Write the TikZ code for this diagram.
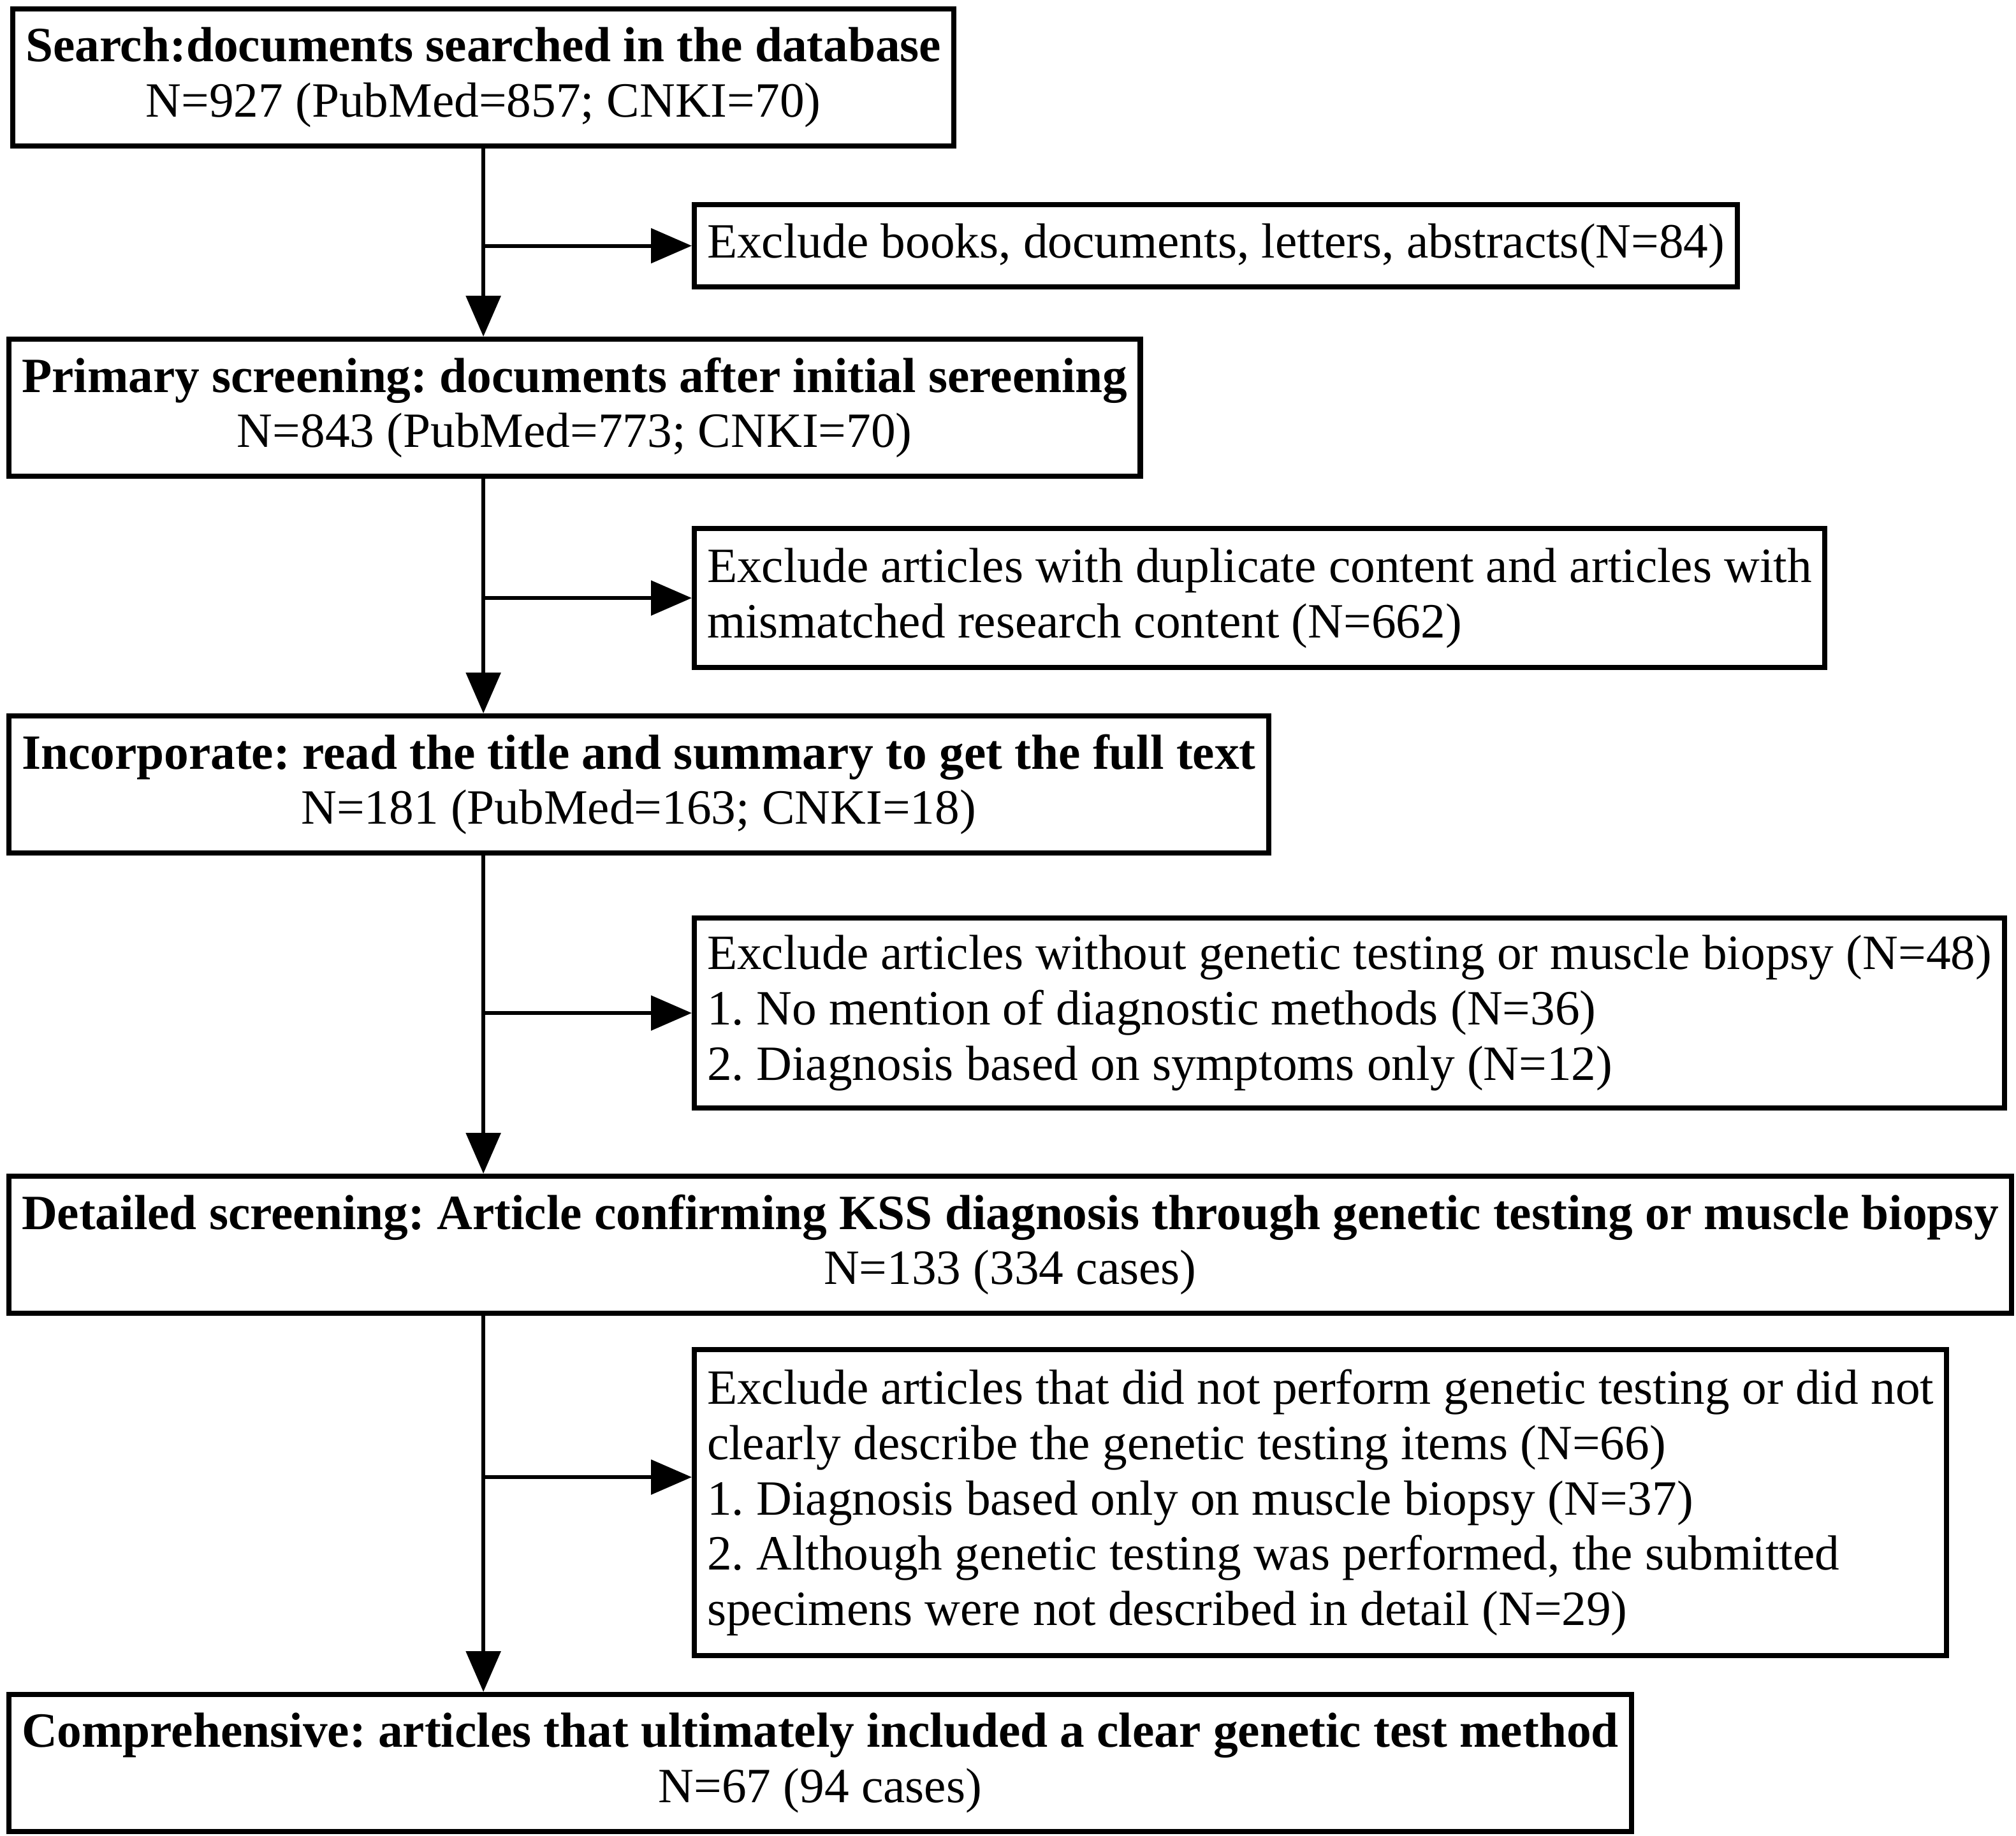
\documentclass[tikz,border=0pt]{standalone}
\usepackage{fontspec}
\setmainfont{Liberation Serif}
\usetikzlibrary{arrows.meta,positioning}
\frenchspacing
\tikzstyle{box}=[draw,line width=2.3pt,inner xsep=0.2cm,align=center,minimum height=2.15cm,anchor=north west,font=\fontsize{22}{24.7}\selectfont]
\tikzstyle{side}=[box,align=left,minimum height=0pt]
\tikzstyle{flow}=[->,line width=1.7pt]

\begin{document}
\begin{tikzpicture}[>={Triangle[length=0.64cm,width=0.54cm]}]
\useasboundingbox (0,0) rectangle (31.62,-28.79);

% main column
\node[box] (search) at (0.16,-0.10) {\textbf{Search:documents searched in the database}\\N=927 (PubMed=857; CNKI=70)};
\node[box] (prim)   at (0.10,-5.28) {\textbf{Primary screening: documents after initial sereening}\\N=843 (PubMed=773; CNKI=70)};
\node[box] (incorp) at (0.10,-11.19) {\textbf{Incorporate: read the title and summary to get the full text}\\N=181 (PubMed=163; CNKI=18)};
\node[box] (detail) at (0.10,-18.41) {\textbf{Detailed screening: Article confirming KSS diagnosis through genetic testing or muscle biopsy}\\N=133 (334 cases)};
\node[box] (compr)  at (0.10,-26.54) {\textbf{Comprehensive: articles that ultimately included a clear genetic test method}\\N=67 (94 cases)};

% exclusions
\node[side,minimum height=1.29cm] (ex1) at (10.85,-3.17) {Exclude books, documents, letters, abstracts(N=84)};
\node[side,minimum height=2.18cm] (ex2) at (10.85,-8.25) {Exclude articles with duplicate content and articles with\\mismatched research content (N=662)};
\node[side,minimum height=2.98cm] (ex3) at (10.85,-14.36) {Exclude articles without genetic testing or muscle biopsy (N=48)\\1. No mention of diagnostic methods (N=36)\\2. Diagnosis based on symptoms only (N=12)};
\node[side,minimum height=4.80cm] (ex4) at (10.85,-21.13) {Exclude articles that did not perform genetic testing or did not\\clearly describe the genetic testing items (N=66)\\1. Diagnosis based only on muscle biopsy (N=37)\\2. Although genetic testing was performed, the submitted\\specimens were not described in detail (N=29)};

% trunk
\draw[flow] (search.south) -- (search.south |- prim.north);
\draw[flow] (search.south |- prim.south) -- (search.south |- incorp.north);
\draw[flow] (search.south |- incorp.south) -- (search.south |- detail.north);
\draw[flow] (search.south |- detail.south) -- (search.south |- compr.north);

% branches
\coordinate (b1) at (search.south |- ex1.west);
\coordinate (b2) at (search.south |- ex2.west);
\coordinate (b3) at (search.south |- ex3.west);
\coordinate (b4) at ([yshift=0.4cm]search.south |- ex4.west);
\draw[flow] (b1) -- (b1 -| ex1.west);
\draw[flow] (b2) -- (b2 -| ex2.west);
\draw[flow] (b3) -- (b3 -| ex3.west);
\draw[flow] (b4) -- (b4 -| ex4.west);
\end{tikzpicture}
\end{document}
